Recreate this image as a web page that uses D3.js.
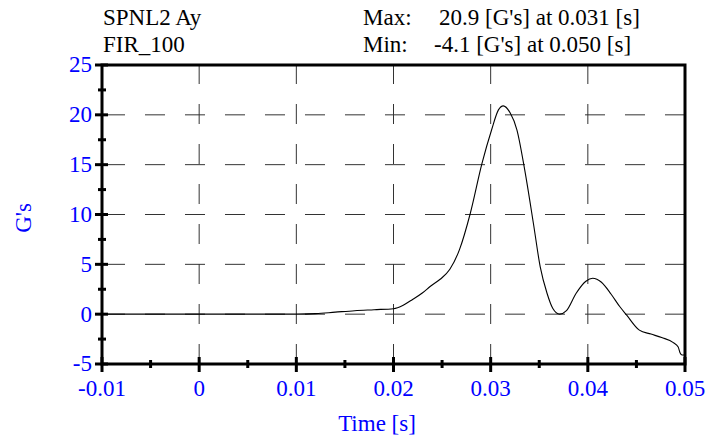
<!DOCTYPE html>
<html><head><meta charset="utf-8">
<script src="https://cdn.jsdelivr.net/npm/d3@7"></script>
<style>body{margin:0;background:#fff}text{font-family:"Liberation Serif","Times New Roman",serif}</style>
</head><body>
<svg id="c" width="721" height="435"></svg>
<script>
const timeS = [-0.01, 0.0, 0.005, 0.01, 0.012, 0.014, 0.016, 0.018, 0.020, 0.021, 0.022, 0.023, 0.0238, 0.0248, 0.0258, 0.0268, 0.0279, 0.0291, 0.0301, 0.0308, 0.0313, 0.032, 0.0327, 0.0335, 0.0344, 0.0351, 0.0358, 0.0364, 0.0371, 0.0378, 0.0388, 0.0398, 0.0405, 0.0414, 0.0424, 0.0433, 0.044, 0.0453, 0.0465, 0.0476, 0.0488, 0.0493, 0.0495, 0.0497, 0.05];
const gValues = [0, 0, 0, 0, 0.05, 0.2, 0.35, 0.45, 0.55, 0.9, 1.5, 2.15, 2.8, 3.5, 4.5, 6.5, 10.1, 15.1, 18.5, 20.5, 20.9, 20.2, 18.5, 14.5, 9.1, 4.75, 2.1, 0.57, 0.0, 0.35, 2.1, 3.3, 3.6, 3.2, 2.0, 0.74, -0.1, -1.6, -2.0, -2.35, -2.85, -3.3, -3.9, -4.1, -4.1];
const xTicks = [-0.01, 0, 0.01, 0.02, 0.03, 0.04, 0.05];
const xTickLabels = ["-0.01", "0", "0.01", "0.02", "0.03", "0.04", "0.05"];
const xMinorTicks = [-0.005, 0.005, 0.015, 0.025, 0.035, 0.045];
const yTicks = [-5, 0, 5, 10, 15, 20, 25];
const yMinorTicks = [-2.5, 2.5, 7.5, 12.5, 17.5, 22.5];
const titleLines = ["SPNL2 Ay", "FIR_100"];
const statLabels = ["Max:", "Min:"];
const statTexts = ["20.9 [G's] at 0.031 [s]", "-4.1 [G's] at 0.050 [s]"];
const xTitle = "Time [s]";
const yTitle = "G's";

const L = 102, R = 685, T = 65, B = 364;
const x = d3.scaleLinear().domain([-0.01, 0.05]).range([L, R]);
const y = d3.scaleLinear().domain([-5, 25]).range([B, T]);
const svg = d3.select("#c");
const blue = "#0000ff";

// grid
const gridX = xTicks.filter(d => d > -0.01 && d < 0.05);
const gridY = yTicks.filter(d => d > -5 && d < 25);
svg.append("g").selectAll("line").data(gridY).join("line")
  .attr("x1", R).attr("x2", L).attr("y1", d => y(d)).attr("y2", d => y(d))
  .attr("stroke", "#333").attr("stroke-width", 1).attr("stroke-dasharray", "20,20");
svg.append("g").selectAll("line").data(gridX).join("line")
  .attr("x1", d => x(d)).attr("x2", d => x(d)).attr("y1", B).attr("y2", T)
  .attr("stroke", "#333").attr("stroke-width", 1).attr("stroke-dasharray", "20,20");

// curve
const line = d3.line().x((d, i) => x(timeS[i])).y(d => y(d)).curve(d3.curveMonotoneX);
svg.append("path").datum(gValues).attr("d", line).attr("fill", "none")
  .attr("stroke", "#000").attr("stroke-width", 1.1);

// frame
svg.append("rect").attr("x", L).attr("y", T).attr("width", R - L).attr("height", B - T)
  .attr("fill", "none").attr("stroke", "#000").attr("stroke-width", 3);

// ticks
const tk = svg.append("g").attr("stroke", "#000").attr("stroke-width", 3);
tk.selectAll(".ym").data(yTicks).join("line").attr("class", "ym").attr("x1", L - 7).attr("x2", L + 6)
  .attr("y1", d => y(d)).attr("y2", d => y(d));
tk.selectAll(".yn").data(yMinorTicks).join("line").attr("class", "yn").attr("x1", L - 4).attr("x2", L + 4)
  .attr("y1", d => y(d)).attr("y2", d => y(d));
tk.selectAll(".xm").data(xTicks).join("line").attr("class", "xm").attr("y1", B - 7).attr("y2", B + 8)
  .attr("x1", d => x(d)).attr("x2", d => x(d));
tk.selectAll(".xn").data(xMinorTicks).join("line").attr("class", "xn").attr("y1", B - 4).attr("y2", B + 4)
  .attr("x1", d => x(d)).attr("x2", d => x(d));

// tick labels
svg.append("g").selectAll("text").data(yTicks).join("text")
  .attr("x", 92).attr("y", d => y(d)).attr("dy", "0.32em").attr("text-anchor", "end")
  .attr("fill", blue).attr("font-size", 23).text(d => d);
svg.append("g").selectAll("text").data(xTicks).join("text")
  .attr("x", d => x(d)).attr("y", 396).attr("text-anchor", "middle")
  .attr("fill", blue).attr("font-size", 23).text((d, i) => xTickLabels[i]);

// axis titles
svg.append("text").attr("x", 377).attr("y", 431).attr("text-anchor", "middle")
  .attr("fill", blue).attr("font-size", 23).text(xTitle);
svg.append("text").attr("transform", "translate(31,218) rotate(-90)").attr("text-anchor", "middle")
  .attr("fill", blue).attr("font-size", 23).text(yTitle);

// header
const hy = [25, 52];
svg.append("g").selectAll("text").data(titleLines).join("text")
  .attr("x", 103).attr("y", (d, i) => hy[i]).attr("font-size", 23).attr("fill", "#000").text(d => d);
svg.append("g").selectAll("text").data(statLabels).join("text")
  .attr("x", 363).attr("y", (d, i) => hy[i]).attr("font-size", 23).attr("fill", "#000").text(d => d);
const sx = [439, 434];
svg.append("g").selectAll("text").data(statTexts).join("text")
  .attr("x", (d, i) => sx[i]).attr("y", (d, i) => hy[i]).attr("font-size", 23).attr("fill", "#000").text(d => d);
</script>
</body></html>
